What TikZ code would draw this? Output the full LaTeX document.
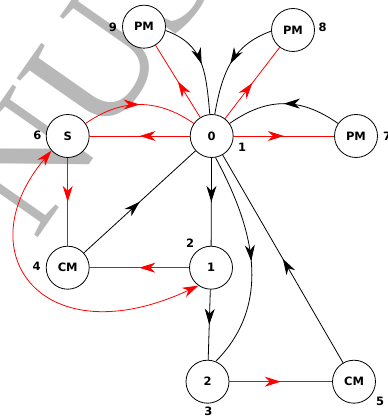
\documentclass[tikz,border=0pt]{standalone}
\usepackage{fontspec}
\usetikzlibrary{arrows.meta,decorations.markings}
\newfontfamily\nodefont{DejaVu Sans}
\newfontfamily\wmfont{Liberation Serif}
\begin{document}
\begin{tikzpicture}[x=1pt,y=1pt,
  vtx/.style={circle, draw, line width=0.8pt, fill=white, minimum size=43pt, inner sep=0pt,
    font=\nodefont\bfseries\fontsize{11.5}{12}\selectfont},
  lbl/.style={font=\nodefont\bfseries\fontsize{11.5}{12}\selectfont, inner sep=0pt},
  redge/.style={red, line width=0.8pt},
  bedge/.style={black, line width=0.8pt},
  tipstyle/.tip={Stealth[length=16pt,width=10pt,inset=5pt]},
  midarrow/.style={postaction={decorate}, decoration={markings,
    mark=at position 0.5 with {\arrow{tipstyle}}}},
]
\useasboundingbox (0,0) rectangle (388,418);
\begin{scope}
\clip (0,0) rectangle (388,418);
\node[rotate=55, text=black!28, inner sep=0pt, font=\wmfont\fontsize{165}{165}\selectfont] (wm) at (86,343) {NUS};
\end{scope}
% nodes
\node[vtx] (n0) at (211.7,282) {0};
\node[vtx] (S) at (67.7,282) {S};
\node[vtx] (PM9) at (144,391.3) {PM};
\node[vtx] (PM8) at (293,388) {PM};
\node[vtx] (PM7) at (356,282) {PM};
\node[vtx] (CM4) at (67.7,150.3) {CM};
\node[vtx] (n1) at (211,150.3) {1};
\node[vtx] (n2) at (207.5,36.3) {2};
\node[vtx] (CM5) at (354,36.3) {CM};
% labels
\node[lbl] (l9) at (113,391) {9};
\node[lbl] (l8) at (322.7,390.3) {8};
\node[lbl] (l7) at (387,282) {7};
\node[lbl] (l6) at (37.3,283) {6};
\node[lbl] (l1) at (242,270.3) {1};
\node[lbl] (l4) at (36.7,151.3) {4};
\node[lbl] (l2) at (190,175) {2};
\node[lbl] (l3) at (208.3,6.3) {3};
\node[lbl] (l5) at (380,16.3) {5};
% red edges
\draw[redge, midarrow] (n0) -- (S);
\draw[redge, midarrow] (n0) -- (PM9);
\draw[redge, midarrow] (n0) -- (PM8);
\draw[redge, midarrow] (n0) -- (PM7);
\draw[redge, midarrow] (S.35) .. controls +(35:44) and +(145:44) .. (n0.145);
\draw[redge, midarrow] (S) -- (CM4);
\draw[redge, midarrow] (n1) -- (CM4);
\draw[redge, midarrow] (n2) -- (CM5);
\draw[redge, tipstyle-tipstyle] (S.222) .. controls +(230:135) and +(205:170) .. (n1.235);
% black edges
\draw[bedge, midarrow] (PM9.-10) .. controls +(-20:40) and +(95:45) .. (n0.95);
\draw[bedge, midarrow] (PM8.183) .. controls +(200:40) and +(80:45) .. (n0.82);
\draw[bedge, midarrow] (PM7.145) .. controls +(145:46) and +(35:46) .. (n0.35);
\draw[bedge, midarrow] (CM4) -- (n0);
\draw[bedge, midarrow] (n0) -- (n1);
\draw[bedge, midarrow] (n1) -- (n2);
\draw[bedge, midarrow] (n0.-80) .. controls +(-62:51) and +(45:96) .. (n2.68);
\draw[bedge, midarrow] (CM5) -- (n0);
\end{tikzpicture}
\end{document}
